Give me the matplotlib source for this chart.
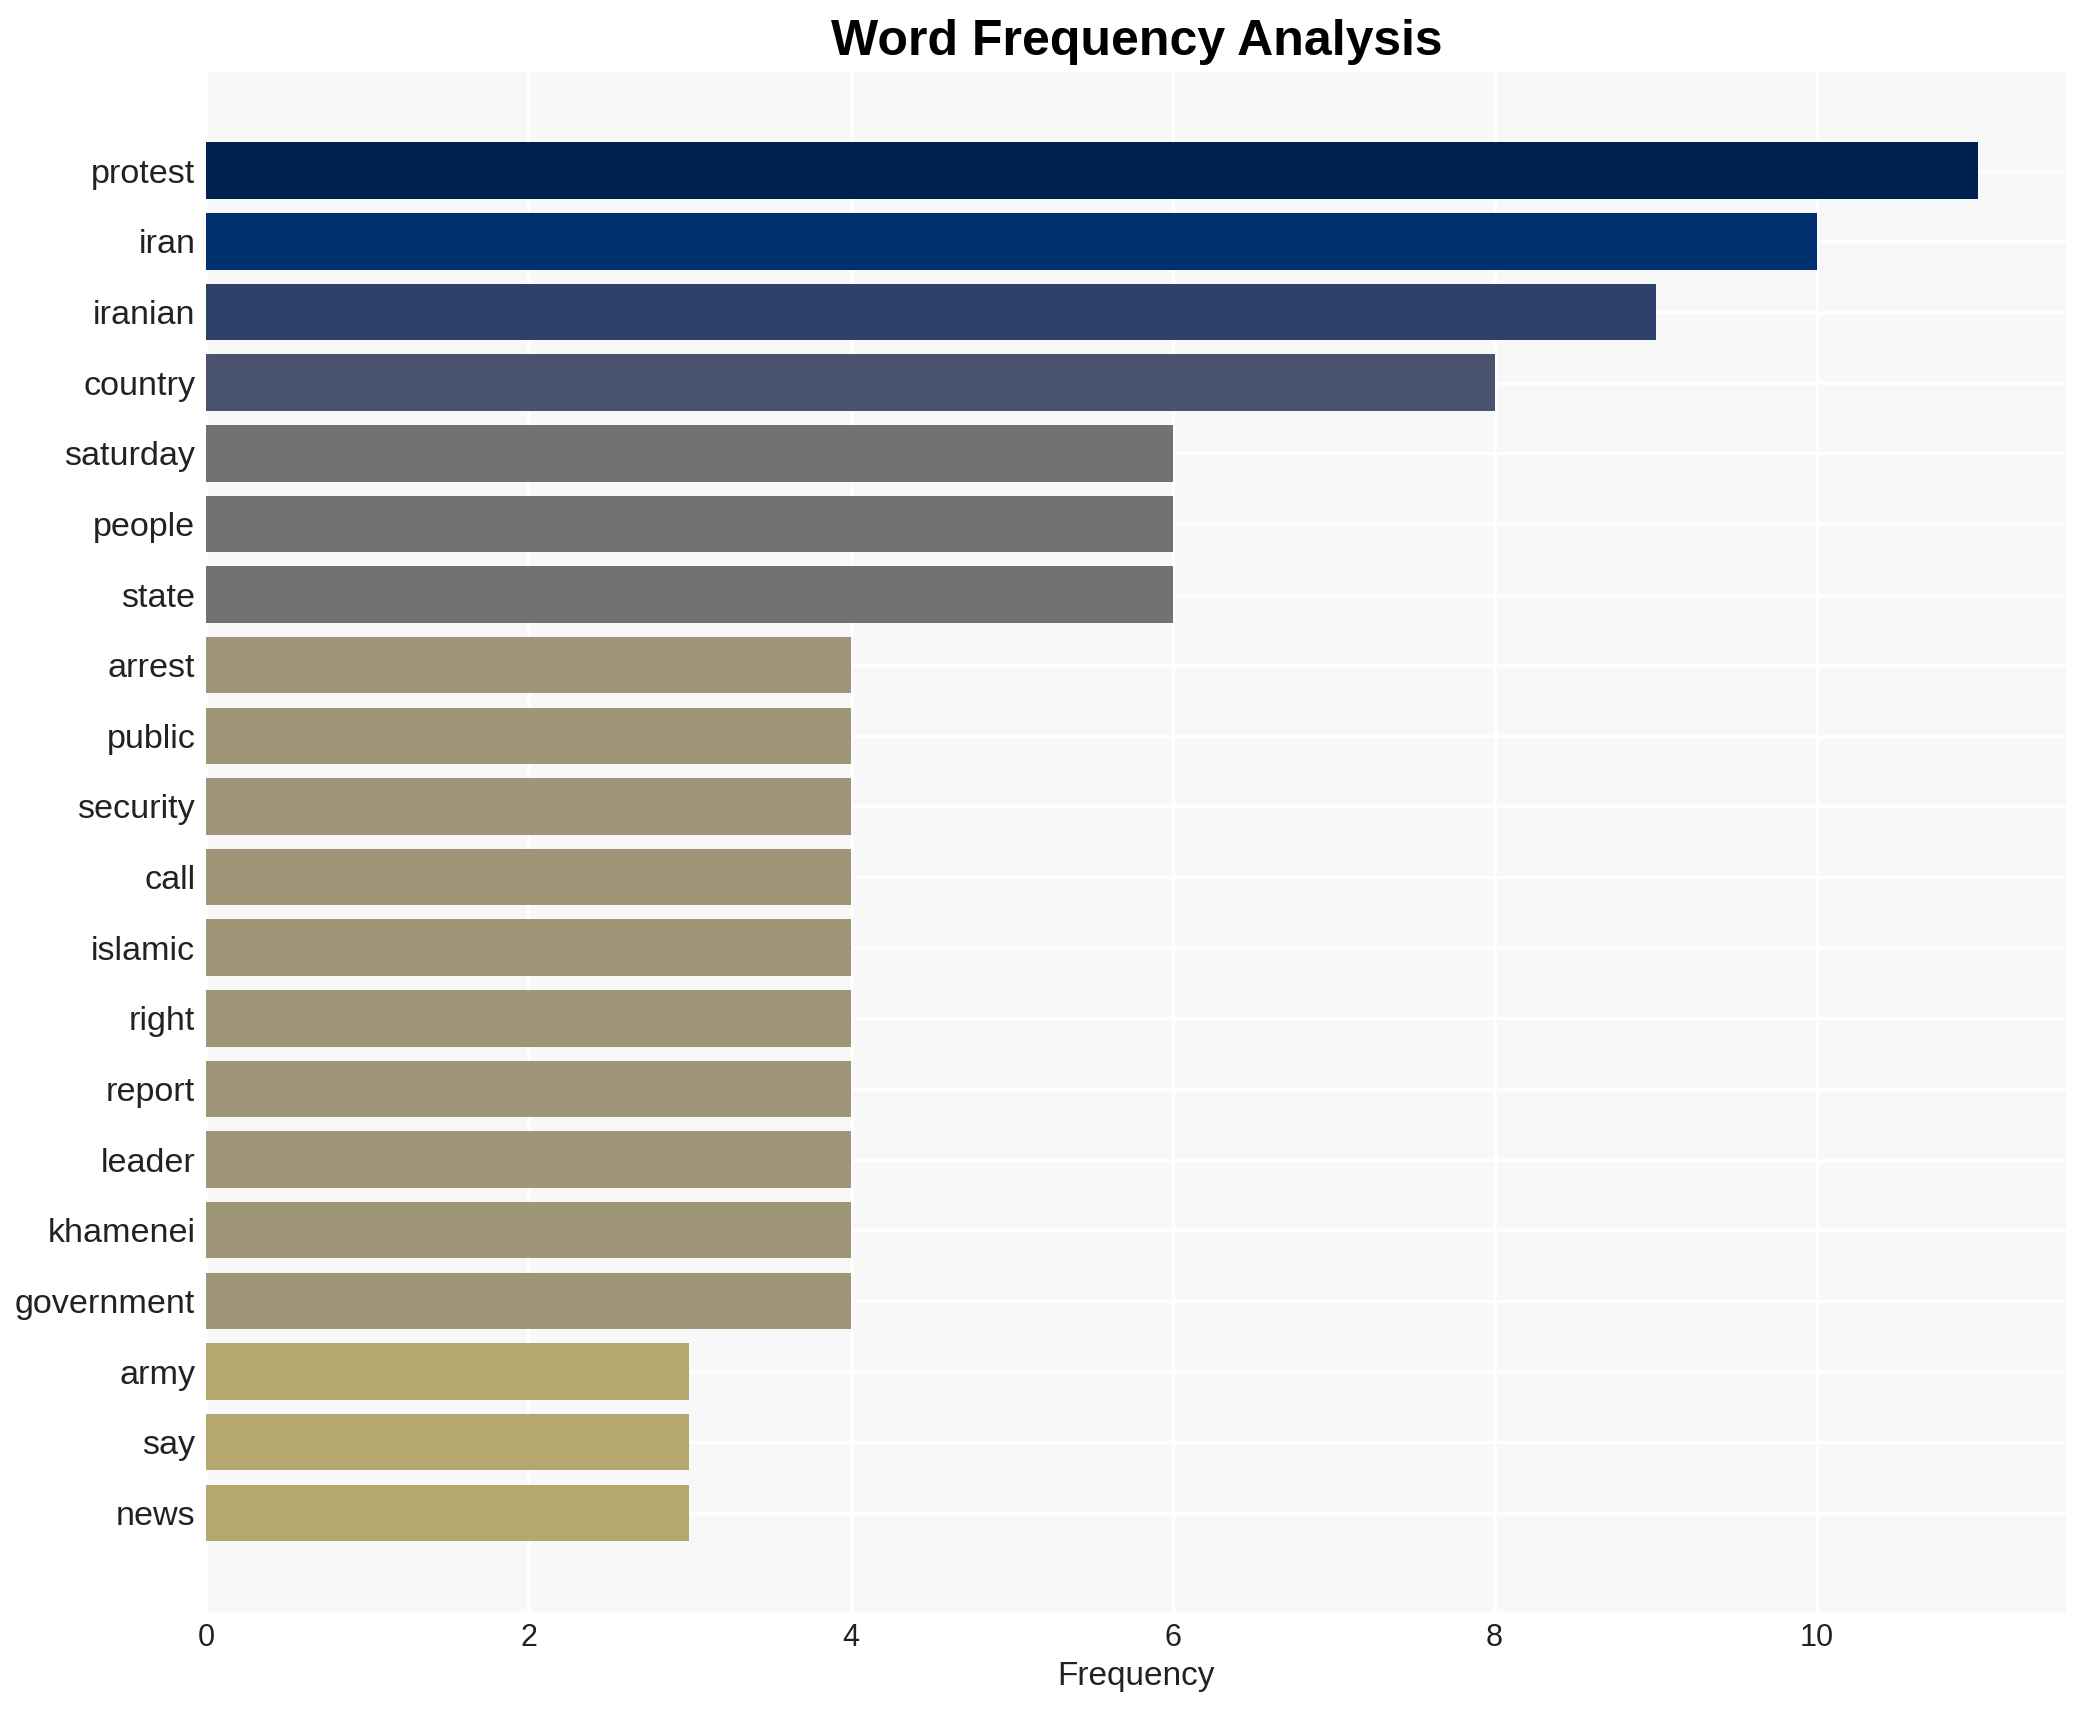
import matplotlib.pyplot as plt
import numpy as np

words = ["protest", "iran", "iranian", "country", "saturday", "people", "state",
         "arrest", "public", "security", "call", "islamic", "right", "report",
         "leader", "khamenei", "government", "army", "say", "news"]
counts = [11, 10, 9, 8, 6, 6, 6, 4, 4, 4, 4, 4, 4, 4, 4, 4, 4, 3, 3, 3]

# colour per frequency level
level_colors = {11: "#00224e", 10: "#00306f", 9: "#2e416b", 8: "#4a536d",
                6: "#727274", 4: "#9e9676", 3: "#b4a86e"}

plt.rcParams['font.family'] = ['Liberation Sans', 'DejaVu Sans']

fig = plt.figure(figsize=(10.425, 8.55), dpi=200)
ax = fig.add_axes([0.099, 0.0575, 0.892, 0.9005])
ax.set_facecolor("#f8f8f8")

y = np.arange(len(words))
ax.barh(y, counts, height=0.8, color=[level_colors[c] for c in counts], zorder=2)

ax.set_yticks(y)
ax.set_yticklabels(words, fontsize=12.3, color="#222222")
ax.set_ylim(len(words) - 1 + 1.4, -1.4)
ax.set_xlim(0, max(counts) * 1.05)
ax.set_xticks([0, 2, 4, 6, 8, 10])
ax.tick_params(axis='x', labelsize=11, colors="#222222", length=0, pad=4)
ax.tick_params(axis='y', length=0, pad=4)
ax.grid(True, color="white", linewidth=1.2, zorder=1)
ax.set_axisbelow(True)
for s in ax.spines.values():
    s.set_visible(False)

ax.set_xlabel("Frequency", fontsize=12, color="#222222", labelpad=3)
ax.set_title("Word Frequency Analysis", fontsize=18, fontweight="bold", pad=6)

fig.savefig("out.png", dpi=200)
